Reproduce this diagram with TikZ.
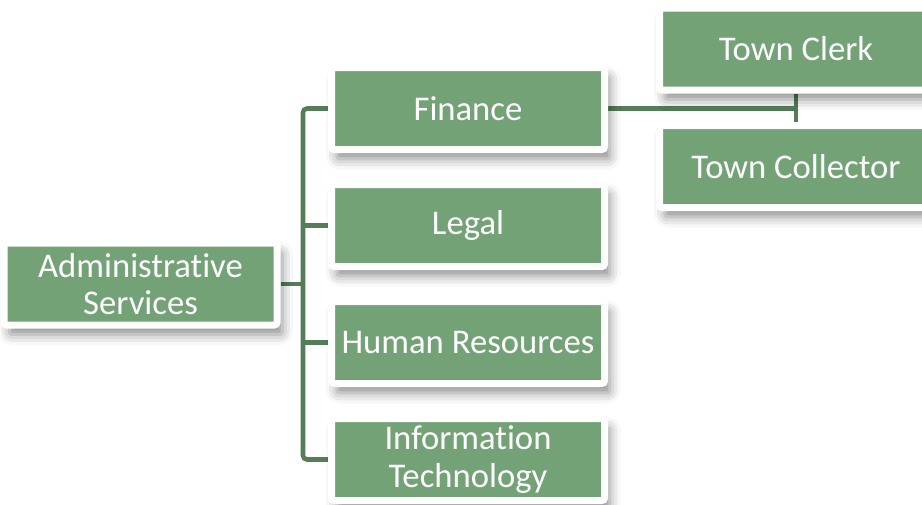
\documentclass[tikz,border=0pt]{standalone}
\usepackage{fontspec}
\setmainfont[Ligatures=NoCommon]{Carlito}
\usetikzlibrary{shadows.blur,backgrounds}
\definecolor{boxgreen}{RGB}{115,162,118}
\definecolor{linkgreen}{RGB}{84,125,88}

\tikzset{
  unit/.style={rectangle, rounded corners=2pt, fill=boxgreen, draw=white,
    line width=5.25pt, minimum width=204.75pt, minimum height=61.5pt,
    inner sep=0pt, align=center, text=white,
    font=\fontsize{26}{28}\selectfont,
    blur shadow={shadow xshift=4pt, shadow yshift=-7pt,
      shadow blur radius=8pt, shadow opacity=45}},
  link/.style={draw=linkgreen, line width=3.4pt}
}

\begin{document}
\begin{tikzpicture}[x=0.75pt,y=-0.75pt]
  \useasboundingbox (0,0) rectangle (922,504);
  % departments
  \node[unit] (admin) at (140.5,284) {Administrative\\Services};
  \node[unit] (fin)   at (468,108.5) {Finance};
  \node[unit] (legal) at (468,225.5) {Legal};
  \node[unit] (hr)    at (468,342.5) {Human Resources};
  \node[unit] (it)    at (468,459.5) {Information\\Technology};
  % offices under finance
  \node[unit] (clerk) at (796,49)    {Town Clerk};
  \node[unit] (coll)  at (796,166.5) {Town Collector};
  \coordinate (bus) at (303,284);
  % connectors
  \begin{scope}[on background layer]
    \draw[link] (admin.east) -- (bus);
    \draw[link,rounded corners=3pt] (fin.west) -- (fin.west -| bus)
      -- (it.west -| bus) -- (it.west);
    \draw[link] (legal.west -| bus) -- (legal.west);
    \draw[link] (hr.west -| bus) -- (hr.west);
    \draw[link] (fin.east) -- (fin.east -| clerk.south);
    \draw[link] (clerk.south) -- (coll.north);
  \end{scope}
\end{tikzpicture}
\end{document}
